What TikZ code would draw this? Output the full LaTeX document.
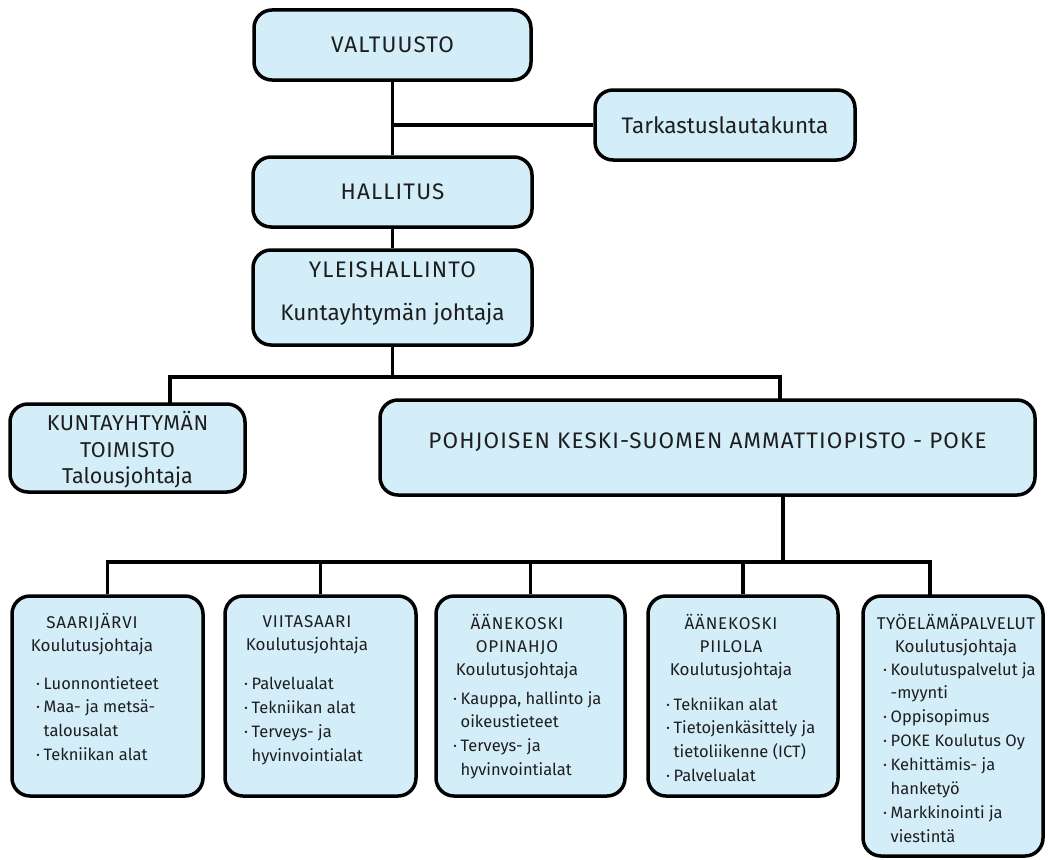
\documentclass[tikz,border=0pt]{standalone}
\usepackage{fontspec}
\usetikzlibrary{calc}
\IfFontExistsTF{Fira Sans Book}{\setmainfont{Fira Sans Book}}{\setmainfont{Fira Sans}}
\definecolor{boxfill}{HTML}{D3EDF9}
\definecolor{ink}{HTML}{1E1E1E}
\tikzset{
  box/.style={draw=black, line width=3.5pt, fill=boxfill, rounded corners=18pt, inner sep=0pt},
  conn/.style={line width=3.5pt, black},
  big/.style={font=\fontsize{22.5}{26}\selectfont, align=center, text=ink, inner sep=0pt},
  hdr/.style={font=\fontsize{17}{23}\selectfont, align=center, text=ink, inner sep=0pt, anchor=north},
  lst/.style={font=\fontsize{16.5}{23.9}\selectfont, align=left, text=ink, inner sep=0pt, anchor=north west},
}
\newcommand\bl{\makebox[7.5pt][l]{·}}
\newcommand\ind{\hspace*{7.5pt}}
\newcommand\caps[1]{{\addfontfeature{LetterSpace=5}#1}}
\newcommand\capt[1]{{\addfontfeature{LetterSpace=2.5}#1}}
\begin{document}
\begin{tikzpicture}[x=1pt,y=-1pt]
\useasboundingbox (0,0) rectangle (1048,859);
% boxes
\node[box, minimum width=277pt, minimum height=70pt] (val) at (392.5,45) {};
\node[box, minimum width=260pt, minimum height=70pt] (tark) at (725,125) {};
\node[box, minimum width=279pt, minimum height=70pt] (hal) at (392.5,192) {};
\node[box, minimum width=279pt, minimum height=95pt] (yle) at (392.5,297.5) {};
\node[box, minimum width=235pt, minimum height=88pt] (kun) at (127.5,448) {};
\node[box, minimum width=655pt, minimum height=95pt] (poke) at (707.5,447.5) {};
\node[box, minimum width=191pt, minimum height=200pt] (b1) at (107.5,696) {};
\node[box, minimum width=191pt, minimum height=200pt] (b2) at (320.5,696) {};
\node[box, minimum width=189pt, minimum height=200pt] (b3) at (530.5,696) {};
\node[box, minimum width=190pt, minimum height=200pt] (b4) at (743,696) {};
\node[box, minimum width=180pt, minimum height=260pt] (b5) at (953,726) {};
% connector points
\coordinate (kin) at (170,405);
\coordinate (pin) at (780,400);
\coordinate (pout) at (783,495);
\coordinate (bus) at (783,562);
\coordinate (d5) at (930,596);
\coordinate (ub) at (392.5,377);
% connectors
\draw[conn] (val.south) -- (hal.north);
\draw[conn] (val.south |- tark.west) -- (tark.west);
\draw[conn] (hal.south) -- (yle.north);
\draw[conn] (yle.south) -- (ub);
\draw[conn] (kin) |- (ub) -| (pin);
\draw[conn] (pout) -- (bus);
\draw[conn] (b1.north) |- (bus) -| (d5);
\draw[conn] (b2.north) -- (b2.north |- bus);
\draw[conn] (b3.north) -- (b3.north |- bus);
\draw[conn] (b4.north) -- (b4.north |- bus);
% texts
\node[big] (tval) at (392.5,45) {\caps{VALTUUSTO}};
\node[big] (ttark) at (725,125) {Tarkastuslautakunta};
\node[big] (thal) at (392.5,192) {\caps{HALLITUS}};
\node[big, font=\fontsize{22.5}{43}\selectfont] (tyle) at (392.5,294) {\caps{YLEISHALLINTO}\\Kuntayhtymän johtaja};
\node[big, font=\fontsize{21.5}{26.5}\selectfont] (tkun) at (127.5,450) {\capt{KUNTAYHTYMÄN}\\\capt{TOIMISTO}\\Talousjohtaja};
\node[big] (tpoke) at (707.5,442) {\caps{POHJOISEN KESKI-SUOMEN AMMATTIOPISTO - POKE}};
% box 1
\node[hdr] (h1) at (92,613) {\caps{SAARIJÄRVI}\\Koulutusjohtaja};
\node[lst] (l1) at (36,676) {\bl Luonnontieteet\\\bl Maa- ja metsä-\\\ind talousalat\\\bl Tekniikan alat};
% box 2
\node[hdr] (h2) at (307,615) {\caps{VIITASAARI}\\Koulutusjohtaja};
\node[lst] (l2) at (244,677) {\bl Palvelualat\\\bl Tekniikan alat\\\bl Terveys- ja\\\ind hyvinvointialat};
% box 3
\node[hdr] (h3) at (517,614) {\caps{ÄÄNEKOSKI}\\\caps{OPINAHJO}\\Koulutusjohtaja};
\node[lst] (l3) at (453,691) {\bl Kauppa, hallinto ja\\\ind oikeustieteet\\\bl Terveys- ja\\\ind hyvinvointialat};
% box 4
\node[hdr] (h4) at (731,614) {\caps{ÄÄNEKOSKI}\\\caps{PIILOLA}\\Koulutusjohtaja};
\node[lst] (l4) at (666,697) {\bl Tekniikan alat\\\bl Tietojenkäsittely ja\\\ind tietoliikenne (ICT)\\\bl Palvelualat};
% box 5
\node[hdr] (h5) at (956,614) {\capt{TYÖELÄMÄPALVELUT}\\Koulutusjohtaja};
\node[lst] (l5) at (883,662) {\bl Koulutuspalvelut ja\\\ind -myynti\\\bl Oppisopimus\\\bl POKE Koulutus Oy\\\bl Kehittämis- ja\\\ind hanketyö\\\bl Markkinointi ja\\\ind viestintä};
\end{tikzpicture}
\end{document}
